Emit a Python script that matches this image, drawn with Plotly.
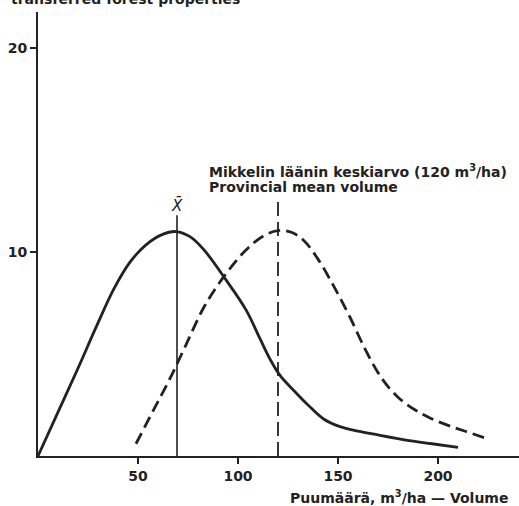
import plotly.graph_objects as go

# Solid curve: transferred forest properties (distribution of volume)
solid_x = [0, 10, 20, 29, 38, 46, 54, 62, 69, 76, 83, 94, 104, 111, 116, 121, 128, 135, 143, 151, 160, 170, 184, 197, 210]
solid_y = [0, 2.15, 4.3, 6.3, 8.2, 9.5, 10.35, 10.85, 11.0, 10.75, 10.1, 8.63, 7.16, 5.75, 4.75, 3.95, 3.2, 2.5, 1.8, 1.44, 1.22, 1.03, 0.78, 0.6, 0.42]

# Dashed curve: provincial distribution
dashed_x = [49, 58, 66, 74, 83, 93, 104, 113, 120, 127, 133, 140, 148, 156, 164, 172, 180, 188, 196, 205, 214, 224]
dashed_y = [0.6, 2.3, 3.8, 5.45, 7.3, 8.8, 10.1, 10.8, 11.05, 10.95, 10.55, 9.65, 8.3, 6.8, 5.15, 3.79, 2.88, 2.29, 1.86, 1.5, 1.2, 0.87]

sample_mean = 69.5
sample_mean_top = 11.8
provincial_mean = 120
provincial_mean_top = 12.5

x_ticks = [50, 100, 150, 200]
y_ticks = [10, 20]

ink = "#222222"
font = "DejaVu Sans"

fig = go.Figure()
fig.add_trace(go.Scatter(x=solid_x, y=solid_y, mode="lines",
                         line=dict(color=ink, width=2.8, shape="spline", smoothing=1.0)))
fig.add_trace(go.Scatter(x=dashed_x, y=dashed_y, mode="lines",
                         line=dict(color=ink, width=2.8, shape="spline", smoothing=1.0, dash="12px,6px")))
fig.add_trace(go.Scatter(x=[sample_mean, sample_mean], y=[0, sample_mean_top], mode="lines",
                         line=dict(color=ink, width=1.6)))
fig.add_trace(go.Scatter(x=[provincial_mean, provincial_mean], y=[0, provincial_mean_top], mode="lines",
                         line=dict(color=ink, width=1.8, dash="14px,6px")))

bold = dict(family=font, size=14, color=ink, weight="bold")

annotations = [
    dict(x=sample_mean, y=12.3, xref="x", yref="y", text="<i>X̄</i>", showarrow=False,
         font=dict(family=font, size=15, color=ink), xanchor="center", yanchor="middle"),
    dict(x=84.5, y=13.95, xref="x", yref="y", text="Mikkelin läänin keskiarvo (120 m<sup>3</sup>/ha)",
         showarrow=False, font=bold, xanchor="left", yanchor="middle"),
    dict(x=84.5, y=13.2, xref="x", yref="y", text="Provincial mean volume",
         showarrow=False, font=bold, xanchor="left", yanchor="middle"),
    dict(x=236, y=-0.092, xref="x", yref="paper", text="Puumäärä, m<sup>3</sup>/ha — Volume",
         showarrow=False, font=bold, xanchor="right", yanchor="middle"),
    dict(x=-0.06, y=1.03, xref="paper", yref="paper", text="transferred forest properties",
         showarrow=False, font=bold, xanchor="left", yanchor="middle"),
]

fig.update_layout(
    width=519, height=506,
    margin=dict(l=38, r=0, t=12, b=50),
    paper_bgcolor="white", plot_bgcolor="white",
    showlegend=False,
    annotations=annotations,
    xaxis=dict(range=[0, 240.5], tickvals=x_ticks, ticks="outside", ticklen=6, tickwidth=1.5,
               tickcolor=ink, showline=True, linecolor=ink, linewidth=2, showgrid=False,
               zeroline=False, tickfont=bold),
    yaxis=dict(range=[0, 21.76], tickvals=y_ticks, ticks="outside", ticklen=6, tickwidth=1.5,
               tickcolor=ink, showline=True, linecolor=ink, linewidth=2, showgrid=False,
               zeroline=False, tickfont=bold),
)

fig.write_html("out.html")
